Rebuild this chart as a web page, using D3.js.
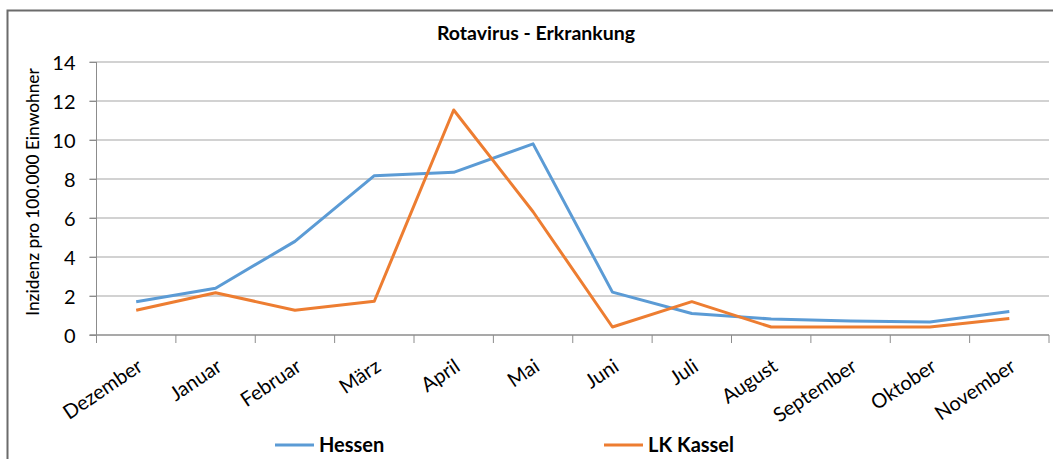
<!DOCTYPE html>
<html>
<head>
<meta charset="utf-8">
<script src="https://cdn.jsdelivr.net/npm/d3@7"></script>
<style>
  body { margin: 0; background: #fff; }
  text { font-family: Lato, "Liberation Sans", sans-serif; fill: #000; }
</style>
</head>
<body>
<div id="graf"></div>
<script>
// Datos
const monate = ['Dezember', 'Januar', 'Februar', 'März', 'April', 'Mai', 'Juni', 'Juli', 'August', 'September', 'Oktober', 'November']
const hessen = [1.7, 2.4, 4.8, 8.17, 8.34, 9.8, 2.2, 1.1, 0.82, 0.72, 0.67, 1.2]
const kassel = [1.27, 2.17, 1.27, 1.73, 11.54, 6.32, 0.41, 1.71, 0.41, 0.41, 0.41, 0.85]
const yTicks = [0, 2, 4, 6, 8, 10, 12, 14]
const serien = [
    { name: 'Hessen', values: hessen, color: '#5B9BD5' },
    { name: 'LK Kassel', values: kassel, color: '#ED7D31' }
]

const anchoTotal = 1053
const altoTotal = 459
const margins = { top: 62, right: 4, bottom: 124, left: 96.5 }
const ancho = anchoTotal - margins.left - margins.right
const alto = altoTotal - margins.top - margins.bottom

const svg = d3.select('#graf').append('svg')
    .attr('width', anchoTotal)
    .attr('height', altoTotal)

// Rahmen
svg.append('rect')
    .attr('x', 7.5).attr('y', 10.5)
    .attr('width', 1060).attr('height', 470)
    .attr('fill', 'none')
    .attr('stroke', '#6b6b6b')
    .attr('stroke-width', 2)

const g = svg.append('g')
    .attr('transform', `translate(${margins.left}, ${margins.top})`)

// Escaladores
const x = d3.scaleBand().domain(monate).range([0, ancho])
const y = d3.scaleLinear().domain([0, 14]).range([alto, 0])

// Gitter
g.append('g')
    .selectAll('line')
    .data(yTicks.filter(d => d > 0))
    .join('line')
    .attr('x1', -7).attr('x2', ancho)
    .attr('y1', d => y(d)).attr('y2', d => y(d))
    .attr('stroke', '#c3c3c3')
    .attr('stroke-width', 1.5)

// Y-Achse
const yAxis = g.append('g')
    .call(d3.axisLeft(y).tickValues(yTicks).tickSize(7).tickPadding(14))
yAxis.select('.domain').attr('stroke', '#8c8c8c').attr('d', `M0,0V${alto}`)
yAxis.selectAll('.tick line').attr('stroke', '#8c8c8c')
yAxis.selectAll('text').style('font-size', '20px').style('font-family', 'Lato').attr('dy', '0.36em')

// X-Achse
const xAxis = g.append('g')
    .attr('transform', `translate(0, ${alto})`)
xAxis.append('line')
    .attr('x1', -7).attr('x2', ancho)
    .attr('stroke', '#8c8c8c').attr('stroke-width', 1.5)
xAxis.selectAll('.tk')
    .data(d3.range(monate.length + 1))
    .join('line')
    .attr('x1', d => d * x.bandwidth()).attr('x2', d => d * x.bandwidth())
    .attr('y1', 0).attr('y2', 8)
    .attr('stroke', '#8c8c8c')
xAxis.selectAll('.lbl')
    .data(monate)
    .join('text')
    .attr('transform', d => `translate(${x(d) + x.bandwidth() / 2}, 23) rotate(-34)`)
    .attr('text-anchor', 'end')
    .attr('dy', '0.7em')
    .style('font-size', '20px')
    .text(d => d)

// Linien
const line = d3.line()
    .x((d, i) => x(monate[i]) + x.bandwidth() / 2)
    .y(d => y(d))

g.selectAll('.serie')
    .data(serien)
    .join('path')
    .attr('d', d => line(d.values))
    .attr('fill', 'none')
    .attr('stroke', d => d.color)
    .attr('stroke-width', 3)
    .attr('stroke-linejoin', 'round')

// Titel
svg.append('text')
    .attr('x', 536).attr('y', 40)
    .attr('text-anchor', 'middle')
    .style('font-size', '19.5px')
    .style('font-weight', 'bold')
    .text('Rotavirus - Erkrankung')

// Y-Titel
svg.append('text')
    .attr('transform', 'translate(39, 192) rotate(-90)')
    .attr('text-anchor', 'middle')
    .style('font-size', '17.3px')
    .style('font-weight', '500')
    .text('Inzidenz pro 100.000 Einwohner')

// Legende
const legX = [275, 604]
const leg = svg.selectAll('.leg')
    .data(serien)
    .join('g')
    .attr('transform', (d, i) => `translate(${legX[i]}, 445)`)
leg.append('line')
    .attr('x1', 0).attr('x2', 39)
    .attr('stroke', d => d.color).attr('stroke-width', 3)
leg.append('text')
    .attr('x', 44).attr('dy', '0.36em')
    .style('font-size', '20px')
    .style('font-weight', 'bold')
    .text(d => d.name)
</script>
</body>
</html>
